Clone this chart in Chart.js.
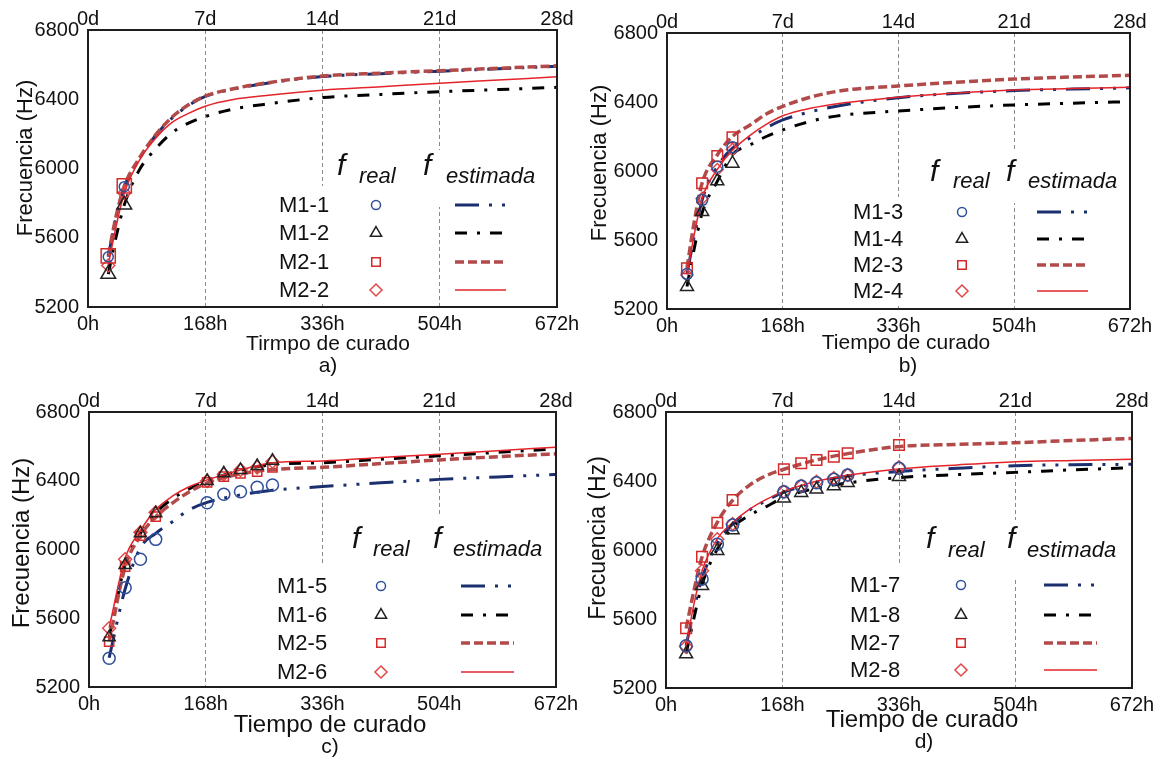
<!DOCTYPE html>
<html lang="es">
<head>
<meta charset="utf-8">
<title>Frecuencia vs tiempo de curado</title>
<script src="https://cdn.jsdelivr.net/npm/chart.js@4.4.1/dist/chart.umd.min.js"></script>
<style>
  html, body { margin: 0; padding: 0; background: #fff; }
  #sheet { position: relative; width: 1170px; height: 757px; overflow: hidden; }
  #sheet canvas { position: absolute; }
</style>
</head>
<body>
<div id="sheet">
  <canvas id="chartA" width="585" height="378" style="left:0;top:0"></canvas>
  <canvas id="chartB" width="585" height="378" style="left:585px;top:0"></canvas>
  <canvas id="chartC" width="585" height="378" style="left:0;top:379px"></canvas>
  <canvas id="chartD" width="585" height="378" style="left:585px;top:379px"></canvas>
</div>
<script>
const FONT = "'Liberation Sans', Arial, sans-serif";

// shared axes
const yTicks = [5200, 5600, 6000, 6400, 6800];
const hourTicks = [0, 168, 336, 504, 672];
const dayLabels = ["0d", "7d", "14d", "21d", "28d"];
const gridHours = [168, 336, 504];
const legendHeader = ["real", "estimada"];

// a) measured points and fitted curves
const namesA = ["M1-1", "M1-2", "M2-1", "M2-2"];
const hoursA = [29, 52];
const realA_M1_1 = [5490, 5895];
const realA_M1_2 = [5390, 5790];
const realA_M2_1 = [5495, 5900];
const realA_M2_2 = [5440, 5858];
const fitHoursA = [29, 40, 52, 74, 96, 120, 144, 168, 210, 252, 336, 420, 504, 588, 672];
const fitA_M1_1 = [5490, 5715, 5893, 6058, 6186, 6290, 6364, 6416, 6460, 6490, 6531, 6548, 6562, 6576, 6590];
const fitA_M1_2 = [5390, 5600, 5790, 5995, 6110, 6205, 6262, 6300, 6345, 6370, 6410, 6428, 6444, 6456, 6469];
const fitA_M2_1 = [5495, 5720, 5898, 6062, 6190, 6295, 6368, 6418, 6462, 6492, 6534, 6551, 6565, 6579, 6593];
const fitA_M2_2 = [5440, 5660, 5858, 6050, 6170, 6265, 6318, 6360, 6400, 6420, 6452, 6472, 6492, 6511, 6530];

// b)
const namesB = ["M1-3", "M1-4", "M2-3", "M2-4"];
const hoursB = [29, 51, 73, 95];
const realB_M1_3 = [5403, 5832, 6025, 6137];
const realB_M1_4 = [5329, 5764, 5942, 6044];
const realB_M2_3 = [5436, 5929, 6087, 6195];
const realB_M2_4 = [5397, 5841, 6009, 6125];
const fitHoursB = [29, 40, 51, 73, 95, 120, 144, 168, 210, 252, 336, 420, 504, 588, 672];
const fitB_M1_3 = [5403, 5630, 5832, 6025, 6132, 6190, 6250, 6296, 6345, 6380, 6425, 6450, 6466, 6475, 6482];
const fitB_M1_4 = [5330, 5560, 5757, 5940, 6095, 6150, 6200, 6238, 6290, 6322, 6348, 6368, 6383, 6393, 6402];
const fitB_M2_3 = [5438, 5716, 5930, 6093, 6200, 6265, 6330, 6375, 6430, 6465, 6493, 6515, 6533, 6545, 6555];
const fitB_M2_4 = [5400, 5640, 5841, 6009, 6120, 6205, 6270, 6320, 6365, 6393, 6428, 6452, 6470, 6478, 6485];

// c)
const namesC = ["M1-5", "M1-6", "M2-5", "M2-6"];
const hoursC = [29, 52, 74, 96, 170, 194, 218, 242, 264];
const realC_M1_5 = [5367, 5778, 5943, 6059, 6272, 6321, 6336, 6362, 6375];
const realC_M1_6 = [5490, 5910, 6094, 6211, 6399, 6443, 6463, 6486, 6517];
const realC_M2_5 = [5464, 5900, 6080, 6191, 6391, 6424, 6443, 6453, 6478];
const realC_M2_6 = [5542, 5943, 6100, 6216, 6399, 6438, 6463, 6478, 6511];
const fitHoursC = [29, 52, 74, 96, 120, 144, 170, 218, 264, 336, 420, 504, 588, 672];
const fitC_M1_5 = [5370, 5770, 6010, 6094, 6162, 6230, 6274, 6318, 6345, 6366, 6388, 6408, 6422, 6437];
const fitC_M1_6 = [5490, 5912, 6095, 6213, 6295, 6352, 6400, 6460, 6495, 6505, 6525, 6545, 6565, 6585];
const fitC_M2_5 = [5465, 5898, 6080, 6190, 6270, 6335, 6388, 6440, 6465, 6478, 6500, 6521, 6540, 6557];
const fitC_M2_6 = [5545, 5950, 6110, 6232, 6310, 6365, 6405, 6463, 6505, 6515, 6535, 6554, 6575, 6595];

// d)
const namesD = ["M1-7", "M1-8", "M2-7", "M2-8"];
const hoursD = [29, 52, 74, 96, 170, 195, 217, 242, 262, 336];
const realD_M1_7 = [5445, 5832, 6033, 6145, 6338, 6371, 6390, 6410, 6435, 6474];
const realD_M1_8 = [5397, 5793, 5996, 6116, 6300, 6332, 6352, 6371, 6390, 6425];
const realD_M2_7 = [5546, 5961, 6158, 6290, 6468, 6503, 6522, 6541, 6561, 6609];
const realD_M2_8 = [5440, 5880, 6062, 6151, 6338, 6371, 6396, 6416, 6435, 6479];
const fitHoursD = [29, 40, 52, 74, 96, 120, 144, 170, 217, 264, 336, 420, 504, 588, 672];
const fitD_M1_7 = [5445, 5650, 5835, 6040, 6150, 6230, 6285, 6335, 6393, 6430, 6455, 6474, 6489, 6494, 6497];
const fitD_M1_8 = [5400, 5600, 5800, 6005, 6130, 6200, 6250, 6305, 6358, 6390, 6420, 6437, 6450, 6465, 6477];
const fitD_M2_7 = [5545, 5760, 5960, 6160, 6288, 6375, 6430, 6468, 6522, 6560, 6600, 6612, 6622, 6635, 6647];
const fitD_M2_8 = [5440, 5680, 5880, 6065, 6158, 6235, 6292, 6340, 6398, 6435, 6470, 6493, 6512, 6519, 6526];

// one style per specimen slot (M1-odd, M1-even, M2-odd, M2-even)
const seriesStyles = [
  { point: "circle", pointColor: "#2f4f9a", line: "#1b2f6e", width: 3, dash: [24, 10, 3, 10, 3, 10], order: 4 },
  { point: "triangle", pointColor: "#222222", line: "#000000", width: 3, dash: [12, 10, 3, 10], order: 3 },
  { point: "rect", pointColor: "#d42a2a", line: "#b24a4a", width: 3.5, dash: [9, 4], order: 2 },
  { point: "rectRot", pointColor: "#e04848", line: "#e3242b", width: 1.5, dash: [], order: 1 },
];
const legendMarkerSize = [4.5, 6.5, 6, 6];

const panels = [
  {
    canvas: "chartA", caption: "a)", xTitle: "Tirmpo de curado", names: namesA,
    hours: hoursA, real: [realA_M1_1, realA_M1_2, realA_M2_1, realA_M2_2],
    fitHours: fitHoursA, fit: [fitA_M1_1, fitA_M1_2, fitA_M2_1, fitA_M2_2],
    area: { left: 88, top: 30, right: 557, bottom: 307 },
    markerSize: [5, 8.5, 10, 6.5],
    yTitleFont: 22, xTitleFont: 21,
    yTitlePos: [26, 158], xTitlePos: [328, 344], captionPos: [328, 366],
    legend: {
      boxes: [[328, 150, 556, 207], [265, 186, 436, 304]],
      fX: [337, 423], fBase: 175, subX: [359, 446], subBase: 183,
      labelX: 279, rows: [205, 233, 262, 290], markX: 376, lineX: [455, 506],
    },
  },
  {
    canvas: "chartB", caption: "b)", xTitle: "Tiempo de curado", names: namesB,
    hours: hoursB, real: [realB_M1_3, realB_M1_4, realB_M2_3, realB_M2_4],
    fitHours: fitHoursB, fit: [fitB_M1_3, fitB_M1_4, fitB_M2_3, fitB_M2_4],
    area: { left: 82, top: 33, right: 545, bottom: 309 },
    markerSize: [5.5, 7.5, 7.5, 6],
    yTitleFont: 22, xTitleFont: 21,
    yTitlePos: [15, 163], xTitlePos: [321, 343], captionPos: [323, 366],
    legend: {
      boxes: [[320, 152, 543, 203], [260, 197, 425, 306]],
      fX: [345, 421], fBase: 181, subX: [368, 443], subBase: 188,
      labelX: 268, rows: [212, 239, 265, 291], markX: 377, lineX: [452, 503],
    },
  },
  {
    canvas: "chartC", caption: "c)", xTitle: "Tiempo de curado", names: namesC,
    hours: hoursC, real: [realC_M1_5, realC_M1_6, realC_M2_5, realC_M2_6],
    fitHours: fitHoursC, fit: [fitC_M1_5, fitC_M1_6, fitC_M2_5, fitC_M2_6],
    area: { left: 89, top: 33, right: 556, bottom: 308 },
    markerSize: [6, 7, 6.5, 6.5],
    yTitleFont: 24, xTitleFont: 24,
    yTitlePos: [22, 164], xTitlePos: [330, 346], captionPos: [330, 368],
    legend: {
      boxes: [[330, 138, 555, 201], [262, 184, 440, 307]],
      fX: [352, 433], fBase: 169, subX: [373, 453], subBase: 177,
      labelX: 277, rows: [207, 236, 264, 293], markX: 381, lineX: [461, 514],
    },
  },
  {
    canvas: "chartD", caption: "d)", xTitle: "Tiempo de curado", names: namesD,
    hours: hoursD, real: [realD_M1_7, realD_M1_8, realD_M2_7, realD_M2_8],
    fitHours: fitHoursD, fit: [fitD_M1_7, fitD_M1_8, fitD_M2_7, fitD_M2_8],
    area: { left: 81, top: 33, right: 547, bottom: 309 },
    markerSize: [6, 7.5, 7.5, 6.5],
    yTitleFont: 23, xTitleFont: 24,
    yTitlePos: [14, 159], xTitlePos: [337, 341], captionPos: [339, 363],
    legend: {
      boxes: [[320, 141, 545, 201], [255, 184, 425, 308]],
      fX: [341, 422], fBase: 169, subX: [363, 442], subBase: 178,
      labelX: 265, rows: [206, 236, 264, 291], markX: 376, lineX: [459, 512],
    },
  },
];

function markerPath(ctx, style, x, y, r) {
  ctx.beginPath();
  if (style === "circle") {
    ctx.arc(x, y, r, 0, Math.PI * 2);
  } else if (style === "triangle") {
    const h = r * Math.sqrt(3) / 2;
    ctx.moveTo(x, y - r);
    ctx.lineTo(x + h, y + r / 2);
    ctx.lineTo(x - h, y + r / 2);
    ctx.closePath();
  } else if (style === "rect") {
    const s = r * Math.SQRT1_2;
    ctx.rect(x - s, y - s, 2 * s, 2 * s);
  } else {
    ctx.moveTo(x, y - r);
    ctx.lineTo(x + r, y);
    ctx.lineTo(x, y + r);
    ctx.lineTo(x - r, y);
    ctx.closePath();
  }
}

// white patches behind the key, then the key itself, frame and titles
const panelDecor = {
  id: "panelDecor",
  beforeDatasetsDraw(chart, args, opts) {
    const ctx = chart.ctx;
    ctx.save();
    ctx.fillStyle = "#ffffff";
    opts.legend.boxes.forEach((b) => ctx.fillRect(b[0], b[1], b[2] - b[0], b[3] - b[1]));
    ctx.restore();
  },
  afterDatasetsDraw(chart, args, opts) {
    const ctx = chart.ctx;
    const lg = opts.legend;
    ctx.save();
    ctx.fillStyle = "#111";
    ctx.textBaseline = "alphabetic";
    ctx.textAlign = "left";
    lg.fX.forEach((x, i) => {
      ctx.font = `italic 30px ${FONT}`;
      ctx.fillText("f", x, lg.fBase);
      ctx.font = `italic 22px ${FONT}`;
      ctx.fillText(legendHeader[i], lg.subX[i], lg.subBase);
    });
    ctx.font = `22px ${FONT}`;
    ctx.textBaseline = "middle";
    opts.names.forEach((name, i) => {
      const y = lg.rows[i];
      const s = seriesStyles[i];
      ctx.fillStyle = "#111";
      ctx.fillText(name, lg.labelX, y + 1);
      ctx.strokeStyle = s.pointColor;
      ctx.lineWidth = 1.5;
      ctx.setLineDash([]);
      markerPath(ctx, s.point, lg.markX, y, legendMarkerSize[i]);
      ctx.stroke();
      ctx.strokeStyle = s.line;
      ctx.lineWidth = s.width;
      ctx.setLineDash(s.dash);
      ctx.beginPath();
      ctx.moveTo(lg.lineX[0], y);
      ctx.lineTo(lg.lineX[1], y);
      ctx.stroke();
    });
    ctx.restore();
  },
  afterDraw(chart, args, opts) {
    const ctx = chart.ctx;
    const a = chart.chartArea;
    ctx.save();
    ctx.strokeStyle = "#1e1e1e";
    ctx.lineWidth = 2;
    ctx.strokeRect(a.left, a.top, a.right - a.left, a.bottom - a.top);

    ctx.fillStyle = "#111";
    ctx.textAlign = "center";
    ctx.textBaseline = "middle";
    ctx.font = `${opts.xTitleFont}px ${FONT}`;
    ctx.fillText(opts.xTitle, opts.xTitlePos[0], opts.xTitlePos[1]);
    ctx.font = `21px ${FONT}`;
    ctx.fillText(opts.caption, opts.captionPos[0], opts.captionPos[1]);

    ctx.translate(opts.yTitlePos[0], opts.yTitlePos[1]);
    ctx.rotate(-Math.PI / 2);
    ctx.font = `${opts.yTitleFont}px ${FONT}`;
    ctx.fillText("Frecuencia (Hz)", 0, 0);
    ctx.restore();
  },
};

function buildChart(p) {
  const canvas = document.getElementById(p.canvas);
  const W = canvas.width;
  const H = canvas.height;
  const datasets = [];

  p.real.forEach((vals, i) => {
    const s = seriesStyles[i];
    datasets.push({
      label: `${p.names[i]} real`,
      data: p.hours.map((h, k) => ({ x: h, y: vals[k] })),
      showLine: false,
      pointStyle: s.point,
      pointRadius: p.markerSize[i],
      pointBorderColor: s.pointColor,
      pointBackgroundColor: "rgba(0,0,0,0)",
      pointBorderWidth: 1.5,
      order: 0,
    });
  });

  p.fit.forEach((vals, i) => {
    const s = seriesStyles[i];
    datasets.push({
      label: `${p.names[i]} estimada`,
      data: p.fitHours.map((h, k) => ({ x: h, y: vals[k] })),
      borderColor: s.line,
      borderWidth: s.width,
      borderDash: s.dash,
      borderCapStyle: "butt",
      pointRadius: 0,
      cubicInterpolationMode: "monotone",
      fill: false,
      order: s.order,
    });
  });

  const tickFont = { family: FONT, size: 20 };

  return new Chart(canvas.getContext("2d"), {
    type: "line",
    data: { datasets },
    plugins: [panelDecor],
    options: {
      responsive: false,
      animation: false,
      devicePixelRatio: 1,
      layout: { padding: { left: 0, top: 0, right: W - p.area.right, bottom: 0 } },
      plugins: {
        legend: { display: false },
        tooltip: { enabled: false },
        panelDecor: p,
      },
      scales: {
        x: {
          type: "linear",
          position: "bottom",
          min: 0,
          max: 672,
          afterBuildTicks: (axis) => { axis.ticks = hourTicks.map((v) => ({ value: v })); },
          afterFit: (axis) => { axis.height = H - p.area.bottom; },
          ticks: {
            autoSkip: false,
            maxRotation: 0,
            padding: 5,
            color: "#111",
            font: tickFont,
            callback: (v) => `${v}h`,
          },
          grid: {
            drawTicks: false,
            lineWidth: 1,
            color: (c) => (c.tick && gridHours.includes(c.tick.value) ? "#8a8a8a" : "rgba(0,0,0,0)"),
          },
          border: { display: false, dash: [4, 3] },
        },
        x2: {
          type: "linear",
          position: "top",
          min: 0,
          max: 672,
          afterBuildTicks: (axis) => { axis.ticks = hourTicks.map((v) => ({ value: v })); },
          afterFit: (axis) => { axis.height = p.area.top; },
          ticks: {
            autoSkip: false,
            maxRotation: 0,
            padding: -1,
            color: "#111",
            font: tickFont,
            callback: (v) => dayLabels[hourTicks.indexOf(v)],
          },
          grid: { display: false, drawTicks: false },
          border: { display: false },
        },
        y: {
          min: 5200,
          max: 6800,
          afterBuildTicks: (axis) => { axis.ticks = yTicks.map((v) => ({ value: v })); },
          afterFit: (axis) => { axis.width = p.area.left; },
          ticks: { padding: 9, color: "#111", font: tickFont, callback: (v) => String(v) },
          grid: { display: false, drawTicks: false },
          border: { display: false },
        },
      },
    },
  });
}

document.addEventListener("DOMContentLoaded", () => {
  panels.forEach(buildChart);
});
</script>
</body>
</html>
